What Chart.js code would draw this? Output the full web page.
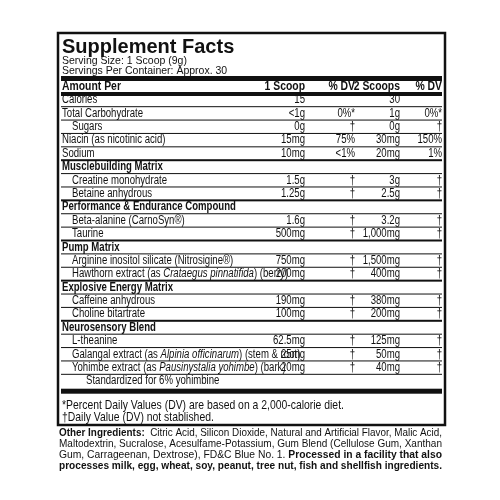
<!DOCTYPE html>
<html><head><meta charset="utf-8">
<script src="https://cdn.jsdelivr.net/npm/chart.js@4"></script>
<style>html,body{margin:0;padding:0;background:#fff}#c{display:block}</style>
</head><body>
<div style="width:500px;height:500px"><canvas id="c" width="500" height="500"></canvas></div>
<script>
const rowNames = ["Calories","Total Carbohydrate","Sugars","Niacin (as nicotinic acid)","Sodium",
 "Musclebuilding Matrix","Creatine monohydrate","Betaine anhydrous",
 "Performance & Endurance Compound","Beta-alanine (CarnoSyn®)","Taurine",
 "Pump Matrix","Arginine inositol silicate (Nitrosigine®)","Hawthorn extract (as _Crataegus pinnatifida_) (berry)",
 "Explosive Energy Matrix","Caffeine anhydrous","Choline bitartrate",
 "Neurosensory Blend","L-theanine","Galangal extract (as _Alpinia officinarum_) (stem & root)",
 "Yohimbe extract (as _Pausinystalia yohimbe_) (bark)","Standardized for 6% yohimbine"];
const rowKinds = ["n","n","i","n","n","s","i","i","s","i","i","s","i","i","s","i","i","s","i","i","i","ii"];
const oneScoop = ["15","<1g","0g","15mg","10mg","","1.5g","1.25g","","1.6g","500mg","","750mg","200mg","","190mg","100mg","","62.5mg","25mg","20mg",""];
const dvOne = ["","0%*","†","75%","<1%","","†","†","","†","†","","†","†","","†","†","","†","†","†",""];
const twoScoops = ["30","1g","0g","30mg","20mg","","3g","2.5g","","3.2g","1,000mg","","1,500mg","400mg","","380mg","200mg","","125mg","50mg","40mg",""];
const dvTwo = ["","0%*","†","150%","1%","","†","†","","†","†","","†","†","","†","†","","†","†","†",""];
const header = ["Amount Per","1 Scoop","% DV","2 Scoops","% DV"];

const S = "'Liberation Sans',Arial,sans-serif";
const SX = 0.8;
function cond(ctx,segs,x,y,align,size){
  // segs: [[style,text],...]
  let w=0;segs.forEach(s=>{ctx.font=s[0]+" "+size+"px "+S;w+=ctx.measureText(s[1]).width;});
  ctx.save();ctx.translate(x,y);ctx.scale(SX,1);
  let cx=align==="right"?-w:0;ctx.textAlign="left";
  segs.forEach(s=>{ctx.font=s[0]+" "+size+"px "+S;ctx.fillText(s[1],cx,0);cx+=ctx.measureText(s[1]).width;});
  ctx.restore();
}
function rich(str){return str.split("_").map((p,k)=>[k%2?"italic":"",p]);}
const labelPlugin={id:"label",afterDraw(chart){
  const ctx=chart.ctx,ys=chart.scales.y;ctx.save();
  const L=58,R=445;ctx.fillStyle="#111";ctx.strokeStyle="#111";
  ctx.lineWidth=2.5;ctx.strokeRect(L,33,R-L,392);
  ctx.textBaseline="middle";ctx.textAlign="left";
  ctx.font="bold 20px "+S;ctx.fillText("Supplement Facts",62,47);
  ctx.font="10.5px "+S;ctx.fillText("Serving Size: 1 Scoop (9g)",62,61);ctx.fillText("Servings Per Container: Approx. 30",62,71);
  ctx.fillRect(L+3,76,R-L-6,5);
  cond(ctx,[["bold",header[0]]],62,86,"left",13);
  const cx=[305,355,400,442];
  for(let j=1;j<5;j++)cond(ctx,[["bold",header[j]]],cx[j-1],86,"right",13);
  ctx.fillRect(L+3,92,R-L-6,4);
  const step=ys.getPixelForValue(1)-ys.getPixelForValue(0);
  rowNames.forEach((nm,i)=>{
    const y=ys.getPixelForValue(i);const k=rowKinds[i];
    if(k==="s")cond(ctx,[["bold",nm]],62,y,"left",12);
    else cond(ctx,rich(nm),k==="i"?72:(k==="ii"?86:62),y,"left",12);
    [oneScoop[i],dvOne[i],twoScoops[i],dvTwo[i]].forEach((v,j)=>{if(v)cond(ctx,[["",v]],cx[j],y,"right",12);});
    if(i<rowNames.length-1){
      const ly=y+step/2;const next=rowKinds[i+1];
      ctx.fillRect(L+3,ly-(next==="s"?1:0.5),R-L-6,next==="s"?2:1);
    }
  });
  const last=ys.getPixelForValue(rowNames.length-1)+step/2;
  ctx.fillRect(L+3,last+1,R-L-6,5);
  ctx.textAlign="left";
  cond(ctx,[["","*Percent Daily Values (DV) are based on a 2,000-calorie diet."]],62,405,"left",13);
  cond(ctx,[["","†Daily Value (DV) not stablished."]],62,417,"left",13);
  const lines=[[["b","Other Ingredients:"],["n","  Citric Acid, Silicon Dioxide, Natural and Artificial Flavor, Malic Acid,"]],
   [["n","Maltodextrin, Sucralose, Acesulfame-Potassium, Gum Blend (Cellulose Gum, Xanthan"]],
   [["n","Gum, Carrageenan, Dextrose), FD&C Blue No. 1. "],["b","Processed in a facility that also"]],
   [["b","processes milk, egg, wheat, soy, peanut, tree nut, fish and shellfish ingredients."]]];
  lines.forEach((ln,i)=>{
    let w=0;ln.forEach(s=>{ctx.font=(s[0]==="b"?"bold ":"")+"11px "+S;w+=ctx.measureText(s[1]).width;});
    const sc=Math.min(1,383/w);ctx.save();ctx.translate(59,433+i*11);ctx.scale(sc,1);let x=0;
    ln.forEach(s=>{ctx.font=(s[0]==="b"?"bold ":"")+"11px "+S;ctx.fillText(s[1],x,0);x+=ctx.measureText(s[1]).width;});
    ctx.restore();
  });
  ctx.restore();
}};
new Chart(document.getElementById("c"),{type:"bar",
  data:{labels:rowNames,datasets:[{data:rowNames.map(()=>0)}]},
  options:{responsive:false,animation:false,indexAxis:"y",
    layout:{padding:{top:93.3,bottom:112.3,left:58,right:55}},
    plugins:{legend:{display:false},tooltip:{enabled:false}},
    scales:{x:{display:false,min:0,max:1},y:{display:false}}},
  plugins:[labelPlugin]});
</script></body></html>
